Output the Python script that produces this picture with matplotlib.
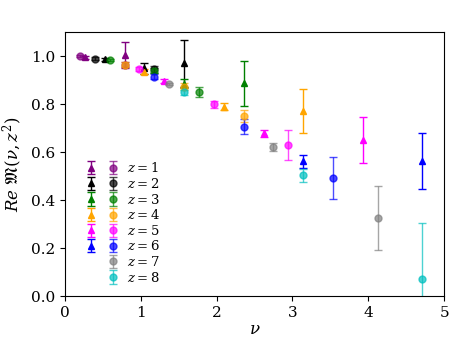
import matplotlib
matplotlib.use("Agg")
import matplotlib.pyplot as plt
from matplotlib.legend_handler import HandlerTuple
from matplotlib.lines import Line2D

plt.rcParams['font.family'] = 'DejaVu Serif'
plt.rcParams['mathtext.fontset'] = 'dejavuserif'

colors = ['purple', 'black', 'green', 'orange', 'magenta', 'blue', 'gray', 'c']
z_values = [1, 2, 3, 4, 5, 6, 7, 8]

# circle ensemble
circ_nu = [
    [0.196, 0.785],
    [0.393, 1.178],
    [0.589, 1.178, 1.767],
    [0.785, 1.571, 2.356],
    [0.982, 1.963, 2.945],
    [1.178, 2.356, 3.534],
    [1.374, 2.749, 4.123],
    [1.571, 3.142, 4.712],
]
circ_val = [
    [1.0, 0.965],
    [0.99, 0.945],
    [0.985, 0.94, 0.851],
    [0.965, 0.872, 0.751],
    [0.946, 0.80, 0.629],
    [0.914, 0.706, 0.492],
    [0.883, 0.621, 0.326],
    [0.849, 0.503, 0.07],
]
circ_err = [
    [0.005, 0.01],
    [0.005, 0.015],
    [0.005, 0.01, 0.02],
    [0.01, 0.015, 0.025],
    [0.008, 0.015, 0.062],
    [0.01, 0.03, 0.088],
    [0.005, 0.018, 0.135],
    [0.01, 0.028, 0.235],
]

# triangle ensemble
tri_nu = [
    [0.262, 0.785],
    [0.524, 1.047, 1.571],
    [1.571, 2.356],
    [1.047, 2.094, 3.142],
    [1.309, 2.618, 3.927],
    [3.142, 4.712],
]
tri_val = [
    [0.995, 1.004],
    [0.986, 0.949, 0.97],
    [0.885, 0.886],
    [0.935, 0.789, 0.771],
    [0.897, 0.678, 0.65],
    [0.563, 0.563],
]
tri_err = [
    [0.005, 0.053],
    [0.006, 0.022, 0.098],
    [0.018, 0.092],
    [0.01, 0.015, 0.092],
    [0.008, 0.016, 0.097],
    [0.027, 0.118],
]

fig = plt.figure(figsize=(4.71, 3.53), dpi=100)
ax = fig.add_axes([0.138, 0.161, 0.805, 0.748])

tri_h = []
for i in range(len(tri_nu)):
    h = ax.errorbar(tri_nu[i], tri_val[i], yerr=tri_err[i], fmt='^', color=colors[i],
                    markersize=5, capsize=3, elinewidth=1, capthick=1)
    tri_h.append(h)

circ_h = []
for i in range(len(circ_nu)):
    h = ax.errorbar(circ_nu[i], circ_val[i], yerr=circ_err[i], fmt='o', color=colors[i],
                    markersize=5, capsize=3, elinewidth=1, capthick=1, alpha=0.7)
    circ_h.append(h)

handles = []
labels = []
blank = Line2D([], [], linestyle='none', marker=None)
for i in range(8):
    t = tri_h[i] if i < len(tri_h) else blank
    handles.append((t, circ_h[i]))
    labels.append(r'$z=%d$' % z_values[i])

ax.legend(handles, labels, handler_map={tuple: HandlerTuple(ndivide=None, pad=0.8)},
          loc='upper left', bbox_to_anchor=(0.03, 0.545), frameon=False,
          fontsize=9.5, handlelength=2.5, labelspacing=0.12, borderpad=0.2,
          handletextpad=0.6)

ax.set_xlim(0, 5)
ax.set_ylim(0, 1.1)
ax.set_xticks([0, 1, 2, 3, 4, 5])
ax.set_yticks([0.0, 0.2, 0.4, 0.6, 0.8, 1.0])
ax.tick_params(labelsize=11)
ax.set_xlabel(r'$\nu$', fontsize=12, labelpad=1)
ax.set_ylabel(r'$Re\ \mathfrak{M}(\nu,z^2)$', fontsize=12)

fig.savefig('out.png', dpi=100)
